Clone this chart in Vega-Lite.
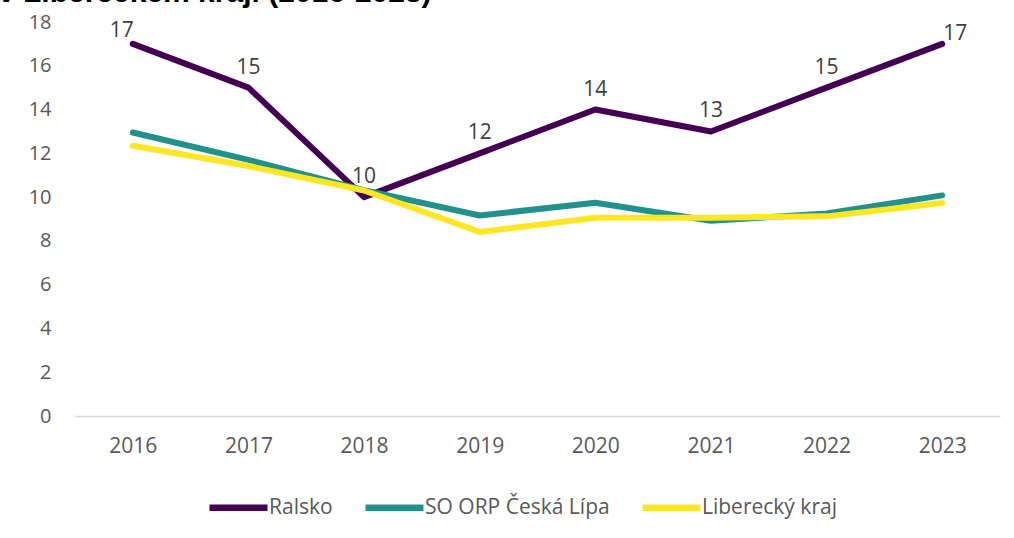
{
  "$schema": "https://vega.github.io/schema/vega-lite/v6.json",
  "width": 925,
  "height": 394,
  "autosize": {"type": "none"},
  "padding": {"left": 75, "top": 22, "right": 14, "bottom": 122},
  "background": "white",
  "config": {"view": {"stroke": null}},
  "title": {
    "text": "v Libereckém kraji (2016-2023)",
    "anchor": "start",
    "frame": "group",
    "font": "Liberation Sans",
    "fontSize": 30,
    "fontWeight": "bold",
    "color": "#000000",
    "baseline": "alphabetic",
    "dx": -77,
    "dy": 30,
    "offset": 10
  },
  "data": {
    "values": [
      {"year": "2016", "series": "Ralsko", "value": 17},
      {"year": "2017", "series": "Ralsko", "value": 15},
      {"year": "2018", "series": "Ralsko", "value": 10},
      {"year": "2019", "series": "Ralsko", "value": 12},
      {"year": "2020", "series": "Ralsko", "value": 14},
      {"year": "2021", "series": "Ralsko", "value": 13},
      {"year": "2022", "series": "Ralsko", "value": 15},
      {"year": "2023", "series": "Ralsko", "value": 17},
      {"year": "2016", "series": "SO ORP Česká Lípa", "value": 12.95},
      {"year": "2017", "series": "SO ORP Česká Lípa", "value": 11.7},
      {"year": "2018", "series": "SO ORP Česká Lípa", "value": 10.32},
      {"year": "2019", "series": "SO ORP Česká Lípa", "value": 9.16},
      {"year": "2020", "series": "SO ORP Česká Lípa", "value": 9.74},
      {"year": "2021", "series": "SO ORP Česká Lípa", "value": 8.92},
      {"year": "2022", "series": "SO ORP Česká Lípa", "value": 9.25},
      {"year": "2023", "series": "SO ORP Česká Lípa", "value": 10.08},
      {"year": "2016", "series": "Liberecký kraj", "value": 12.35},
      {"year": "2017", "series": "Liberecký kraj", "value": 11.42},
      {"year": "2018", "series": "Liberecký kraj", "value": 10.3},
      {"year": "2019", "series": "Liberecký kraj", "value": 8.41},
      {"year": "2020", "series": "Liberecký kraj", "value": 9.06},
      {"year": "2021", "series": "Liberecký kraj", "value": 9.06},
      {"year": "2022", "series": "Liberecký kraj", "value": 9.12},
      {"year": "2023", "series": "Liberecký kraj", "value": 9.73}
    ]
  },
  "encoding": {
    "x": {
      "field": "year",
      "type": "ordinal",
      "scale": {"type": "point", "padding": 0.5},
      "axis": {
        "title": null,
        "labelAngle": 0,
        "ticks": false,
        "domainColor": "#d9d9d9",
        "domainWidth": 1.5,
        "labelFont": "Open Sans",
        "labelFontSize": 21,
        "labelColor": "#595959",
        "labelPadding": 19,
        "grid": false
      }
    },
    "y": {
      "field": "value",
      "type": "quantitative",
      "scale": {"domain": [0, 18], "nice": false},
      "axis": {
        "title": null,
        "values": [0, 2, 4, 6, 8, 10, 12, 14, 16, 18],
        "domain": false,
        "ticks": false,
        "grid": false,
        "labelFont": "Open Sans",
        "labelFontSize": 20,
        "labelColor": "#595959",
        "labelPadding": 24
      }
    }
  },
  "layer": [
    {
      "mark": {"type": "line", "strokeWidth": 6, "strokeCap": "round", "strokeJoin": "round"},
      "encoding": {
        "color": {
          "field": "series",
          "type": "nominal",
          "sort": null,
          "scale": {
            "domain": ["Ralsko", "SO ORP Česká Lípa", "Liberecký kraj"],
            "range": ["#440154", "#21918c", "#fde725"]
          },
          "legend": {
            "title": null,
            "orient": "none",
            "direction": "horizontal",
            "legendX": 131,
            "legendY": 453,
            "symbolType": "stroke",
            "symbolStrokeWidth": 6.5,
            "symbolSize": 3364,
            "labelFont": "Open Sans",
            "labelFontSize": 21,
            "labelColor": "#595959",
            "labelOffset": -2,
            "labelLimit": 400,
            "columnPadding": 19,
            "padding": 0
          }
        }
      }
    },
    {
      "transform": [{"filter": "datum.series === 'Ralsko' && datum.year !== '2016' && datum.year !== '2023'"}],
      "mark": {"type": "text", "font": "Open Sans", "fontSize": 21, "color": "#404040", "baseline": "alphabetic", "dy": -14},
      "encoding": {
        "text": {"field": "value", "type": "quantitative"}
      }
    },
    {
      "transform": [{"filter": "datum.series === 'Ralsko' && datum.year === '2016'"}],
      "mark": {"type": "text", "font": "Open Sans", "fontSize": 21, "color": "#404040", "baseline": "alphabetic", "align": "right", "dx": 1, "dy": -7},
      "encoding": {
        "text": {"field": "value", "type": "quantitative"}
      }
    },
    {
      "transform": [{"filter": "datum.series === 'Ralsko' && datum.year === '2023'"}],
      "mark": {"type": "text", "font": "Open Sans", "fontSize": 21, "color": "#404040", "baseline": "alphabetic", "align": "left", "dx": 1, "dy": -4},
      "encoding": {
        "text": {"field": "value", "type": "quantitative"}
      }
    }
  ]
}
